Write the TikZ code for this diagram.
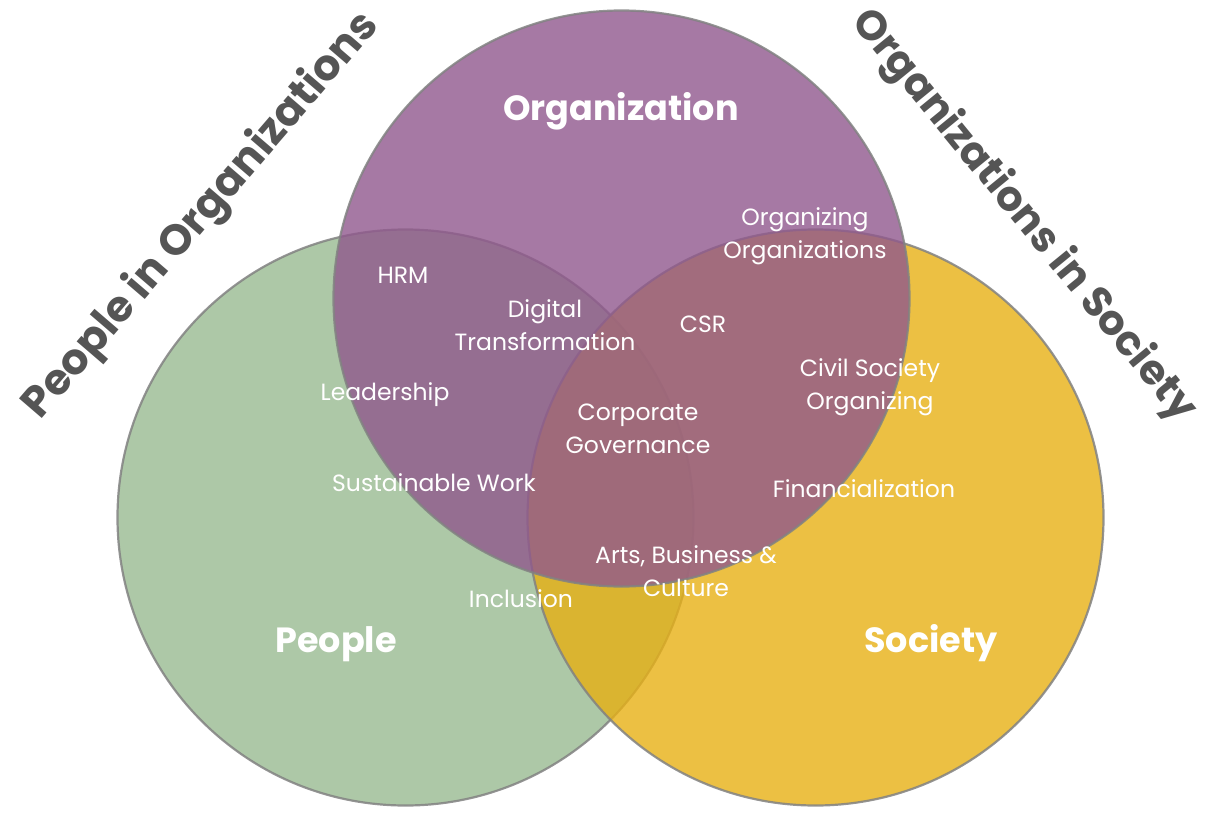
\documentclass[tikz,border=0pt]{standalone}
\usepackage{fontspec}
\setmainfont{Poppins}
\definecolor{cgreen}{RGB}{153,186,145}
\definecolor{cyellow}{RGB}{231,176,20}
\definecolor{cpurple}{RGB}{144,88,141}
\definecolor{cline}{RGB}{130,130,130}
\definecolor{ctitle}{RGB}{85,85,85}
\begin{document}
\begin{tikzpicture}[x=1pt,y=-1pt,
  venn/.style={circle, minimum size=576pt, inner sep=0pt, fill opacity=0.8, draw opacity=0.85, draw=cline, line width=2.2pt},
  lab/.style={text=white, align=center, anchor=base, font=\fontsize{23.5}{32.5}\selectfont, inner sep=0pt},
  head/.style={text=white, anchor=base, font=\fontsize{35}{40}\selectfont\bfseries, inner sep=0pt},
  side/.style={text=ctitle, anchor=center, font=\bfseries, inner sep=0pt}]
\useasboundingbox (0,0) rectangle (1218,838);
\node[venn, fill=cgreen] (people) at (405.5,517.5) {};
\node[venn, fill=cyellow] (society) at (815.5,517.5) {};
\node[venn, fill=cpurple] (org) at (621.5,298.5) {};

\node[head] (torg) at (621,120) {Organization};
\node[head] (tpeople) at (336,652) {People};
\node[head] (tsociety) at (931,652) {Society};

\node[side, rotate=49.3] (pio) at (202,216) {\resizebox{520pt}{!}{People in Organizations}};
\node[side, rotate=-50.7] (ois) at (1023,216) {\resizebox{518pt}{!}{Organizations in Society}};

\node[lab] (hrm) at (403,283) {HRM};
\node[lab] (digital) at (545,350) {Digital\\Transformation};
\node[lab] (lead) at (385,400) {Leadership};
\node[lab] (sust) at (434,491) {Sustainable Work};
\node[lab] (incl) at (521,607) {Inclusion};
\node[lab] (orgorg) at (805,258) {Organizing\\Organizations};
\node[lab] (csr) at (703,332) {CSR};
\node[lab] (civil) at (870,409) {Civil Society\\Organizing};
\node[lab] (corp) at (638,453) {Corporate\\Governance};
\node[lab] (fin) at (864,497) {Financialization};
\node[lab] (arts) at (686,596) {Arts, Business \&\\Culture};
\end{tikzpicture}
\end{document}
